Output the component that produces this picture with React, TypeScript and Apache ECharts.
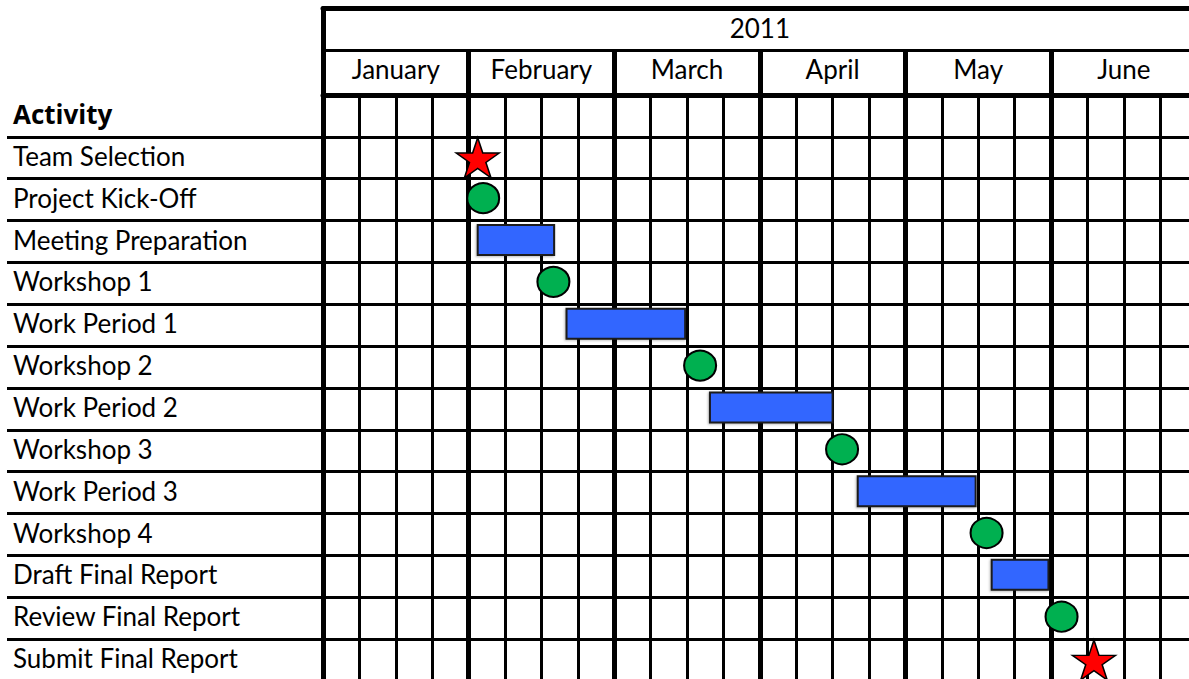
import React, { useEffect, useRef } from "react";
import * as echarts from "echarts";

const yearLabel = ["2011"];
const months = ["January", "February", "March", "April", "May", "June"];
const activities = [
  "Activity",
  "Team Selection",
  "Project Kick-Off",
  "Meeting Preparation",
  "Workshop 1",
  "Work Period 1",
  "Workshop 2",
  "Work Period 2",
  "Workshop 3",
  "Work Period 3",
  "Workshop 4",
  "Draft Final Report",
  "Review Final Report",
  "Submit Final Report",
];
// values in weeks from 1 January (4 weeks per month)
const starMilestones: [number, string][] = [
  [4.25, "Team Selection"],
  [21.18, "Submit Final Report"],
];
const circleMilestones: [number, string][] = [
  [4.4, "Project Kick-Off"],
  [6.33, "Workshop 1"],
  [10.36, "Workshop 2"],
  [14.26, "Workshop 3"],
  [18.23, "Workshop 4"],
  [20.29, "Review Final Report"],
];
const taskNames = ["Meeting Preparation", "Work Period 1", "Work Period 2", "Work Period 3", "Draft Final Report"];
const taskStart = [4.25, 6.69, 10.63, 14.69, 18.37];
const taskEnd = [6.35, 9.95, 14.0, 17.93, 19.93];

const FONT = "Lato";
const FS = 26;
const STAR =
  "path://M50,0 L61.23,34.55 L97.55,34.55 L68.16,55.9 L79.39,90.45 L50,69.1 L20.61,90.45 L31.84,55.9 L2.45,34.55 L38.77,34.55 Z";

export default function App() {
  const ref = useRef<HTMLDivElement>(null);
  useEffect(() => {
    document.body.style.margin = "0";
    const chart = echarts.init(ref.current!, undefined, { renderer: "svg" });
    const chartLeft = 323;
    const chartRight = -7.6;
    const hidden = { show: false };
    const borderAxis = (gridIndex: number) => ({
      type: "category",
      gridIndex,
      data: [""],
      axisLine: { show: true, lineStyle: { color: "#000", width: 5 } },
      axisTick: hidden,
      axisLabel: hidden,
      splitLine: hidden,
    });
    const option: any = {
      animation: false,
      backgroundColor: "#fff",
      grid: [
        { left: 7, top: 95, width: 316, height: 586, containLabel: false, outerBoundsMode: "none" },
        { left: chartLeft, right: chartRight, top: 95, height: 586, containLabel: false, outerBoundsMode: "none" },
        { left: chartLeft, right: chartRight, top: 8.5, height: 41.5, containLabel: false, outerBoundsMode: "none" },
        { left: chartLeft, right: chartRight, top: 50, height: 45, containLabel: false, outerBoundsMode: "none" },
      ],
      xAxis: [
        { type: "value", gridIndex: 0, show: false, min: 0, max: 1 },
        {
          type: "value",
          gridIndex: 1,
          position: "bottom",
          min: 0,
          max: 24,
          interval: 1,
          axisLine: hidden,
          axisTick: hidden,
          axisLabel: hidden,
          splitLine: { show: true, lineStyle: { color: "#000", width: 3 } },
        },
        {
          type: "value",
          gridIndex: 1,
          position: "top",
          min: 0,
          max: 24,
          interval: 4,
          axisLine: hidden,
          axisTick: hidden,
          axisLabel: hidden,
          splitLine: { show: true, lineStyle: { color: "#000", width: 5 } },
        },
        {
          type: "category",
          gridIndex: 2,
          position: "top",
          data: yearLabel,
          axisLine: { show: true, lineStyle: { color: "#000", width: 5 } },
          axisTick: hidden,
          axisLabel: { inside: true, margin: 6, color: "#000", fontFamily: FONT, fontSize: FS },
          splitLine: hidden,
        },
        {
          type: "category",
          gridIndex: 3,
          position: "top",
          data: months,
          axisLine: { show: true, lineStyle: { color: "#000", width: 3 } },
          axisTick: hidden,
          axisLabel: { inside: true, interval: 0, margin: 6, color: "#000", fontFamily: FONT, fontSize: FS },
          splitLine: { show: true, interval: 0, lineStyle: { color: "#000", width: 5 } },
        },
        {
          type: "category",
          gridIndex: 3,
          position: "bottom",
          data: months,
          axisLine: { show: true, lineStyle: { color: "#000", width: 5 } },
          axisTick: hidden,
          axisLabel: hidden,
          splitLine: hidden,
        },
      ],
      yAxis: [
        {
          type: "category",
          gridIndex: 0,
          data: activities,
          inverse: true,
          axisLine: hidden,
          axisTick: hidden,
          axisLabel: {
            inside: true,
            interval: 0,
            margin: 6,
            align: "left",
            color: "#000",
            fontFamily: FONT,
            fontSize: FS,
            padding: [0, 0, 4, 0],
            formatter: (v: string) => (v === "Activity" ? "{b|" + v + "}" : v),
            rich: { b: { fontWeight: "bold", fontFamily: "Open Sans", fontSize: 26, color: "#000" } },
          },
          splitLine: { show: true, interval: 0, showMinLine: false, lineStyle: { color: "#000", width: 3 } },
        },
        {
          type: "category",
          gridIndex: 1,
          data: activities,
          inverse: true,
          axisLine: { show: true, lineStyle: { color: "#000", width: 5 } },
          axisTick: hidden,
          axisLabel: hidden,
          splitLine: { show: true, interval: 0, lineStyle: { color: "#000", width: 3 } },
        },
        borderAxis(2),
        borderAxis(3),
      ],
      series: [
        {
          type: "custom",
          xAxisIndex: 1,
          yAxisIndex: 1,
          encode: { x: [1, 2], y: 0 },
          data: taskNames.map((n, i) => [activities.indexOf(n), taskStart[i], taskEnd[i]]),
          renderItem: (params: any, api: any) => {
            const row = api.value(0);
            const p0 = api.coord([api.value(1), row]);
            const p1 = api.coord([api.value(2), row]);
            const h = 30;
            return {
              type: "rect",
              shape: { x: p0[0], y: p0[1] - h / 2 - 1.5, width: p1[0] - p0[0], height: h },
              style: {
                fill: "#3366FF",
                stroke: "#1a1a1a",
                lineWidth: 2,
                shadowColor: "rgba(0,0,0,0.25)",
                shadowBlur: 2,
                shadowOffsetX: -1,
                shadowOffsetY: 1,
              },
            };
          },
          z: 5,
        },
        {
          type: "scatter",
          xAxisIndex: 1,
          yAxisIndex: 1,
          data: circleMilestones,
          symbol: "circle",
          symbolSize: [32, 30],
          symbolOffset: [0, -1.5],
          itemStyle: { color: "#00B050", borderColor: "#000", borderWidth: 2, opacity: 1 },
          z: 6,
        },
        {
          type: "scatter",
          xAxisIndex: 1,
          yAxisIndex: 1,
          data: starMilestones,
          symbol: STAR,
          symbolSize: [43, 40],
          itemStyle: { color: "#FF0000", borderColor: "#000", borderWidth: 1.5, opacity: 1 },
          z: 6,
        },
      ],
    };
    chart.setOption(option);
    return () => chart.dispose();
  }, []);
  return <div ref={ref} style={{ width: 1189, height: 679 }} />;
}
